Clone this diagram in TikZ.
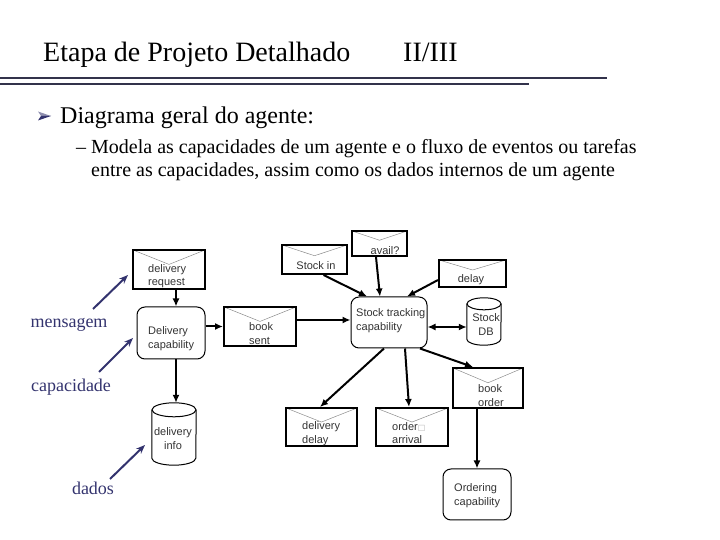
\documentclass[tikz,border=0pt]{standalone}
\usepackage{fontspec}
\setmainfont{Liberation Serif}
\newfontfamily\arialf{Liberation Sans}
\newfontfamily\dejavu{DejaVu Sans}
\usetikzlibrary{arrows.meta,calc}
\definecolor{navy}{RGB}{51,51,110}
\definecolor{rulec}{RGB}{50,50,75}
\tikzset{
  envbox/.style={draw, line width=2pt, inner sep=0pt,
    path picture={\draw[black!45, line width=0.5pt]
      (path picture bounding box.north west) --
      ($(path picture bounding box.north)!0.37!(path picture bounding box.south)$) --
      (path picture bounding box.north east);}},
  capbox/.style={draw, line width=1pt, rounded corners=8pt, inner sep=0pt},
  dbbox/.style={inner sep=0pt},
  dtext/.style={font=\arialf\fontsize{11}{13.5}\selectfont, text=black!80, inner sep=0pt},
  conn/.style={line width=2pt, -{Latex[length=8pt,width=7pt]}},
  biconn/.style={line width=2pt, {Latex[length=8pt,width=7pt]}-{Latex[length=8pt,width=7pt]}},
  note/.style={font=\fontsize{18}{20}\selectfont, text=navy, inner sep=0pt},
  pointer/.style={draw=navy, line width=2pt, -{Stealth[length=9pt,width=7pt]}},
}
\begin{document}
\begin{tikzpicture}[x=1pt,y=1pt]
\useasboundingbox (0,0) rectangle (720,540);
% header
\node[anchor=base west, inner sep=0pt, font=\fontsize{28}{30}\selectfont] (title) at (43,478) {Etapa de Projeto Detalhado};
\node[anchor=base west, inner sep=0pt, font=\fontsize{28}{30}\selectfont] (part) at (403,478) {II/III};
\draw[rulec, line width=1.3pt] (0,462) -- (607,462);
\draw[rulec, line width=1.3pt] (0,456) -- (529,456);
% bullet (two-tone arrowhead)
\fill[navy!55] (38,428.5) -- (51,424) -- (41,424) -- cycle;
\fill[navy] (38,419.5) -- (51,424) -- (41,424) -- cycle;
\node[anchor=base west, inner sep=0pt, font=\fontsize{24}{26}\selectfont] (b1) at (60,416) {Diagrama geral do agente:};
\node[anchor=base west, inner sep=0pt, font=\fontsize{20}{23}\selectfont] (b2) at (76,386) {-- Modela as capacidades de um agente e o fluxo de eventos ou tarefas};
\node[anchor=base west, inner sep=0pt, font=\fontsize{20}{23}\selectfont] (b3) at (91,363) {entre as capacidades, assim como os dados internos de um agente};
% diagram shapes
\node[envbox, minimum width=72, minimum height=39] (dreq) at (169,270.5) {};
\node[capbox, minimum width=68, minimum height=52] (dcap) at (171,207) {};
\node[envbox, minimum width=72, minimum height=39] (bsent) at (260,213.5) {};
\node[envbox, minimum width=65, minimum height=29] (stin) at (314.5,280.5) {};
\node[envbox, minimum width=55, minimum height=25] (avail) at (379.5,296.5) {};
\node[envbox, minimum width=67, minimum height=27] (delay) at (472.5,266.5) {};
\node[capbox, minimum width=76, minimum height=51] (stk) at (389,217.5) {};
\node[dbbox, minimum width=34, minimum height=47] (sdb) at (484,218.5) {};
\node[envbox, minimum width=70, minimum height=40] (bkord) at (488,152) {};
\node[envbox, minimum width=71, minimum height=38] (ddel) at (321.5,113) {};
\node[envbox, minimum width=72, minimum height=38] (oarr) at (412,113) {};
\node[capbox, minimum width=68, minimum height=51] (ord) at (477,45.5) {};
\node[dbbox, minimum width=44, minimum height=62] (dinfo) at (174,106) {};
% cylinders
\draw[line width=1pt] ($(sdb.north west)+(0,-6)$) -- ($(sdb.south west)+(0,6)$) arc (180:360:17 and 6) -- ($(sdb.north east)+(0,-6)$);
\draw[line width=1pt] ($(sdb.north)+(0,-6)$) ellipse [x radius=17, y radius=6];
\draw[line width=1pt] ($(dinfo.north west)+(0,-7)$) -- ($(dinfo.south west)+(0,7)$) arc (180:360:22 and 7) -- ($(dinfo.north east)+(0,-7)$);
\draw[line width=1pt] ($(dinfo.north)+(0,-7)$) ellipse [x radius=22, y radius=7];
% texts
\node[dtext, anchor=west, align=left] (tdreq) at (148,264) {delivery\\request};
\node[dtext, anchor=west, align=left] (tdcap) at (148,201.5) {Delivery\\capability};
\node[dtext, anchor=west, align=left] (tbsent) at (249,206.5) {book\\sent};
\node[dtext] (tstin) at (316,274) {Stock in};
\node[dtext] (tavail) at (385,289) {avail?};
\node[dtext] (tdelay) at (471,260) {delay};
\node[dtext, anchor=west, align=left] (tstk) at (356,219.5) {Stock tracking\\capability};
\node[dtext, align=center] (tsdb) at (486,215.5) {Stock\\DB};
\node[dtext, anchor=west, align=left] (tbkord) at (478,144.5) {book\\order};
\node[dtext, anchor=west, align=left] (tddel) at (302,106.5) {delivery\\delay};
\node[dtext, anchor=west, align=left] (toarr) at (392,107) {order\textcolor{black!30}{\dejavu\fontsize{8}{8}\selectfont □}\\arrival};
\node[dtext, anchor=west, align=left] (tord) at (454,44.5) {Ordering\\capability};
\node[dtext, align=center] (tdinfo) at (173,101.5) {delivery\\info};
% connectors
\draw[conn] ([xshift=7pt]dreq.south) -- ([xshift=5pt]dcap.north);
\draw[conn] (bsent.west -| dcap.east) -- (bsent.west);
\draw[conn] ([yshift=2.5pt]stk.west -| bsent.east) -- ([yshift=2.5pt]stk.west);
\draw[conn] ([xshift=9pt]stin.south) -- ([xshift=-22pt]stk.north);
\draw[conn] ([xshift=-3.5pt]avail.south) -- ([xshift=-9pt]stk.north);
\draw[conn] ([yshift=-6.5pt]delay.west) -- ([xshift=18pt]stk.north);
\draw[biconn] ([yshift=-4.5pt]stk.east) -- ([yshift=-5.5pt]sdb.west);
\draw[conn] ([xshift=-5pt]stk.south) -- ([xshift=-1.5pt]ddel.north);
\draw[conn] ([xshift=16pt]stk.south) -- ([xshift=-3pt]oarr.north);
\draw[conn] ([xshift=31pt]stk.south) -- ([xshift=-15pt]bkord.north);
\draw[conn] ([xshift=-11pt]bkord.south) -- (ord.north);
\draw[conn] ([xshift=5pt]dcap.south) -- ([xshift=2pt]dinfo.north);
% left notes
\node[note] (lmsg) at (69,215) {mensagem};
\node[note] (lcap) at (71,153) {capacidade};
\node[note] (ldad) at (93,52) {dados};
\coordinate (smsg) at (93,231);
\coordinate (scap) at (99,168);
\coordinate (sdad) at (110,61);
\coordinate (pmsg) at (128,265);
\coordinate (pcap) at (133,202);
\coordinate (pdad) at (145,95);
\draw[pointer] (smsg) -- (pmsg);
\draw[pointer] (scap) -- (pcap);
\draw[pointer] (sdad) -- (pdad);
\end{tikzpicture}
\end{document}
